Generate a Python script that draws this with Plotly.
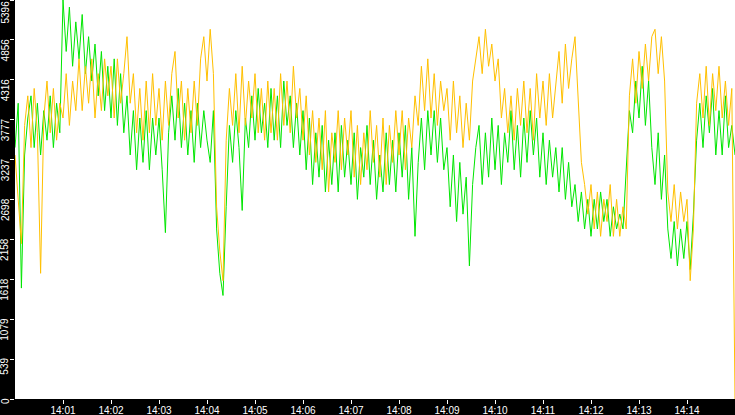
import pandas as pd
import plotly.graph_objects as go

# time axis: one sample every 4 seconds from 14:00:00 to 14:15:00
times = pd.date_range("2000-01-01 14:00:00", "2000-01-01 14:15:00", freq="4s")

green = [
    3400, 4000, 1500, 3300, 3800,
    4100, 3400, 4000, 3300, 3900,
    3500, 4100, 3400, 4000, 3600,
    5396, 4700, 5300, 4500, 5100,
    4600, 5200, 4400, 4900, 4300,
    4800, 4100, 4700, 3900, 4500,
    3800, 4600, 3700, 4400, 3600,
    4100, 3300, 3900, 3100, 3800,
    3200, 3900, 3100, 3800, 3300,
    3800, 3100, 2250, 3600, 4100,
    3500, 4200, 3400, 4000, 3300,
    3900, 3200, 4000, 3400, 3900,
    3500, 3200, 3900, 2300, 1700,
    1400, 2600, 3700, 3200, 3900,
    3400, 2550, 3800, 3400, 4100,
    3500, 4200, 3600, 4000, 3400,
    4200, 3500, 4100, 3400, 4300,
    3700, 4100, 3400, 4000, 3300,
    3900, 3100, 3800, 2900, 3600,
    3000, 3700, 2800, 3500, 2900,
    3600, 2800, 3700, 3000, 3500,
    2900, 3600, 2700, 3400, 3000,
    3700, 2900, 3500, 2700, 3300,
    2800, 3600, 2900, 3500, 2800,
    3600, 3000, 3700, 2700, 3400,
    2200, 3200, 3800, 3100, 3900,
    3300, 3900, 3200, 3800, 3100,
    3400, 2600, 3300, 2400, 3200,
    2500, 3000, 1800, 2900, 3400,
    3700, 2900, 3600, 3000, 3800,
    3100, 3700, 2900, 3600, 3200,
    3900, 3100, 3700, 3000, 3800,
    3200, 3900, 3300, 3800, 3000,
    3600, 2900, 3500, 3000, 3400,
    2800, 3400, 2700, 3200, 2600,
    2900, 2400, 2800, 2300, 2700,
    2200, 2700, 2300, 2800, 2400,
    2700, 2200, 2600, 2300, 2500,
    2300, 3200, 3900, 3600, 4300,
    3800, 4500, 3700, 4300, 3400,
    2900, 3600, 2700, 3300, 2300,
    1900, 2400, 1800, 2300, 1900,
    2400, 1750, 2500, 3500, 4000,
    3400, 4100, 3600, 4200, 3300,
    3900, 3300, 4100, 3400, 3700,
    3300,
]

orange = [
    3300, 2700, 2100, 3700, 4100,
    3400, 4200, 3600, 1700, 3800,
    4300, 3600, 4200, 3500, 4000,
    3800, 4400, 3700, 4300, 3900,
    4600, 3900, 4500, 4000, 4600,
    3800, 4400, 3900, 4600, 4100,
    4500, 3800, 4600, 4000, 4400,
    4900, 4000, 4400, 3600, 4200,
    3500, 4300, 3600, 4400, 3700,
    4200, 3500, 4300, 3700, 4400,
    4700, 3800, 4300, 3500, 4200,
    3600, 4300, 3700, 4600, 4900,
    4300, 5000, 4400, 2600, 2000,
    1600, 3500, 4200, 3700, 4400,
    3600, 4500, 3700, 4300, 3800,
    4400, 3600, 4200, 3500, 4300,
    3600, 4200, 3500, 4400, 3700,
    4300, 3600, 4500, 3800, 4200,
    3500, 4100, 3300, 3900, 3200,
    3800, 3100, 3900, 2800, 3600,
    3200, 3900, 3100, 3800, 3300,
    3900, 3000, 3700, 2900, 3600,
    3100, 3900, 3200, 3700, 3000,
    3800, 2900, 3700, 3200, 3900,
    3300, 3900, 3100, 3800, 3400,
    4100, 3700, 4500, 3900, 4600,
    3800, 4400, 3700, 4300, 3900,
    4200, 3500, 4300, 3600, 4100,
    3400, 4000, 3500, 4300, 4600,
    4900, 4400, 5000, 4500, 4800,
    4300, 4600, 3800, 4200, 3600,
    4100, 3500, 4200, 3700, 4300,
    3600, 4200, 3500, 4400, 3800,
    4300, 3700, 4400, 3800, 4300,
    4700, 4000, 4800, 4200, 4600,
    4900, 4000, 3200, 2900, 2500,
    2900, 2300, 2800, 2200, 2700,
    2400, 2900, 2200, 2700, 2200,
    2600, 2300, 4100, 4600, 4000,
    4700, 4200, 4800, 4300, 4900,
    5000, 4400, 4900, 4300, 2800,
    2400, 2900, 2300, 2800, 2400,
    2700, 1600, 2300, 4000, 4400,
    3800, 4500, 3700, 4400, 3900,
    4500, 3800, 4300, 3700, 4200,
    0,
]

y_ticks = [0, 539, 1079, 1618, 2158, 2698, 3237, 3777, 4316, 4856, 5396]
x_tick_labels = ["14:01", "14:02", "14:03", "14:04", "14:05", "14:06", "14:07",
                 "14:08", "14:09", "14:10", "14:11", "14:12", "14:13", "14:14"]
x_tick_vals = ["2000-01-01 " + t + ":00" for t in x_tick_labels]

fig = go.Figure()
fig.add_trace(go.Scatter(x=times, y=green, mode="lines",
                         line=dict(color="#00e600", width=1), showlegend=False))
fig.add_trace(go.Scatter(x=times, y=orange, mode="lines",
                         line=dict(color="#ffc000", width=1), showlegend=False))

font = dict(family="Liberation Sans", size=10, color="white")

# y labels: rotated, hanging just below each tick (top one clamped inside)
y_annots = []
for v in y_ticks:
    y_annots.append(dict(
        text=str(v), xref="paper", yref="y", x=-10 / 720, y=v,
        xanchor="center", yanchor="top", yshift=(2 if v < 5396 else 0),
        textangle=-90, showarrow=False, font=font, borderpad=0,
    ))

fig.update_layout(
    width=735, height=415,
    margin=dict(l=15, r=0, t=0, b=16, pad=0),
    paper_bgcolor="black", plot_bgcolor="white",
    showlegend=False,
    xaxis=dict(
        range=["2000-01-01 14:00:00", "2000-01-01 14:15:00"],
        tickvals=x_tick_vals, ticktext=x_tick_labels,
        ticks="outside", ticklen=4, tickwidth=1, tickcolor="white",
        showgrid=False, zeroline=False, showline=False,
        tickfont=font, automargin=False, ticklabelstandoff=-2,
    ),
    yaxis=dict(
        range=[0, 5396],
        tickvals=y_ticks, showticklabels=False,
        ticks="outside", ticklen=4, tickwidth=1, tickcolor="white",
        showgrid=False, zeroline=False, showline=False,
        automargin=False,
    ),
    annotations=y_annots,
)

fig.write_html(
    "out.html",
    config={"displayModeBar": False},
    post_script="document.body.style.margin='0';document.body.style.overflow='hidden';",
)
